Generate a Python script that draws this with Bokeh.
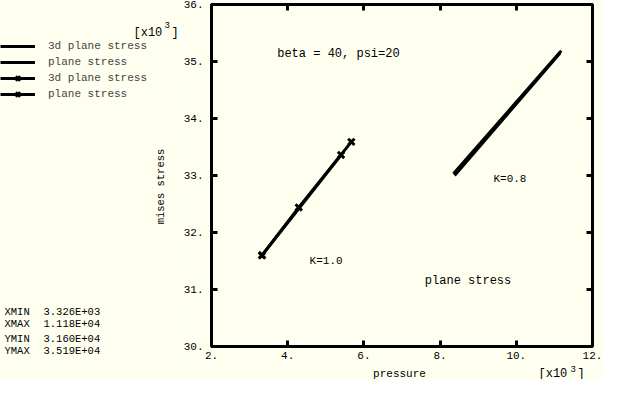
import math
from bokeh.plotting import figure
from bokeh.layouts import row, column
from bokeh.models import (Range1d, LinearAxis, FixedTicker, CustomJSTickFormatter,
                          Label, Legend, LegendItem)
from bokeh.embed import file_html
from bokeh.resources import INLINE

# ---- data ----
p3d_k08 = [8350, 11180]
m3d_k08 = [33030, 35190]
pps_k08 = [8380, 11150]
mps_k08 = [33000, 35150]
p3d_k10 = [3326, 4290, 5670]
m3d_k10 = [31600, 32440, 33590]
pps_k10 = [3326, 5400]
mps_k10 = [31600, 33360]

x_ticks = [2000, 4000, 6000, 8000, 10000, 12000]
y_ticks = [30000, 31000, 32000, 33000, 34000, 35000, 36000]

legend_labels = ["3d plane stress", "plane stress", "3d plane stress", "plane stress"]

BG = "#FFFFF0"
FONT = "Liberation Mono"
LEFT_W = 180


def bare_fig(w, h, xr, yr):
    f = figure(width=w, height=h, x_range=xr, y_range=yr, x_axis_type=None, y_axis_type=None,
               output_backend="svg", toolbar_location=None,
               background_fill_color=BG, border_fill_color=BG,
               min_border=0, min_border_left=0, min_border_right=0,
               min_border_top=0, min_border_bottom=0)
    f.outline_line_color = None
    return f


def add_text(f, x, y, text, size, **kw):
    f.add_layout(Label(x=x, y=y, x_units="screen", y_units="screen", text=text,
                       text_font=FONT, text_font_size=size, text_baseline="middle",
                       text_color="black", **kw))


def add_series(f):
    r1 = f.line(p3d_k08, m3d_k08, line_width=3, color="black")
    r2 = f.line(pps_k08, mps_k08, line_width=3, color="black")
    r3 = f.line(p3d_k10, m3d_k10, line_width=3, color="black")
    r3m = f.scatter(p3d_k10, m3d_k10, marker="x", size=9, line_width=3, color="black")
    r4 = f.line(pps_k10, mps_k10, line_width=3, color="black")
    r4m = f.scatter(pps_k10, mps_k10, marker="x", size=9, line_width=3, color="black")
    return [[r1], [r2], [r3, r3m], [r4, r4m]]


# ---------------- main plot ----------------
p = figure(width=603 - LEFT_W, height=364, x_range=Range1d(2000, 12000),
           y_range=Range1d(30000, 36000),
           x_axis_type=None, y_axis_type=None, output_backend="svg", toolbar_location=None,
           background_fill_color=BG, border_fill_color=BG,
           min_border_left=28, min_border_right=11, min_border_top=4, min_border_bottom=18)
p.outline_line_color = "black"
p.outline_line_width = 3

fmt = CustomJSTickFormatter(code="return (tick/1000).toFixed(0) + '.';")


def make_axis(ticks, show):
    ax = LinearAxis(ticker=FixedTicker(ticks=ticks), formatter=fmt,
                    axis_line_width=3, axis_line_color="black",
                    major_tick_line_width=3, major_tick_in=6, major_tick_out=0,
                    minor_tick_line_color=None,
                    major_label_text_font=FONT, major_label_text_color="black")
    if show:
        ax.major_label_text_font_size = "11px"
    else:
        ax.major_label_text_font_size = "0px"
        ax.major_label_text_color = None
        ax.major_label_standoff = 0
    return ax


ax_b = make_axis(x_ticks, True)
ax_b.major_label_standoff = 5
ax_l = make_axis(y_ticks, True)
ax_l.major_label_standoff = 8
p.add_layout(ax_b, "below")
p.add_layout(ax_l, "left")
p.add_layout(make_axis(x_ticks, False), "above")
p.add_layout(make_axis(y_ticks, False), "right")

add_series(p)


def dlabel(x, y, text, size):
    p.add_layout(Label(x=x, y=y, text=text, text_font=FONT, text_font_size=size,
                       text_baseline="middle", text_color="black"))


dlabel(3725, 35140, "beta = 40, psi=20", "12px")
dlabel(4575, 31500, "K=1.0", "11px")
dlabel(9400, 32930, "K=0.8", "11px")
dlabel(7600, 31155, "plane stress", "12px")

# ---------------- left strip: legend, y title, stats ----------------
left = bare_fig(LEFT_W, 379, Range1d(0, 1), Range1d(0, 1))
groups = add_series(left)   # same series, only used for the legend swatches (off range)
legend = Legend(items=[LegendItem(label=lab, renderers=g) for lab, g in zip(legend_labels, groups)],
                location=(0, 277), background_fill_alpha=0, border_line_color=None,
                padding=0, margin=0, spacing=0, glyph_width=35, glyph_height=16,
                label_height=16, label_standoff=13, label_text_font=FONT,
                label_text_font_size="11px", label_text_baseline="middle")
left.add_layout(legend)

all_x = p3d_k08 + pps_k08 + p3d_k10 + pps_k10
all_y = m3d_k08 + mps_k08 + m3d_k10 + mps_k10
stats = [("XMIN", min(all_x), 68), ("XMAX", max(all_x), 56),
         ("YMIN", min(all_y), 41), ("YMAX", max(all_y), 29)]
for name, v, yy in stats:
    add_text(left, 4, yy, name, "10.5px")
    add_text(left, 43, yy, f"{v:.3E}", "10.5px")

add_text(left, 160, 193, "mises stress", "10.5px", text_align="center", angle=math.pi / 2)
add_text(left, 133, 347, "[x10", "12px")
add_text(left, 164, 355, "3", "9px")
add_text(left, 171, 347, "]", "12px")

# ---------------- bottom strip: x title and multiplier (frame aligned with main) ----------------
bottom = bare_fig(603 - LEFT_W, 15, Range1d(0, 1), Range1d(0, 1))
add_text(bottom, 188, 6, "pressure", "11px", text_align="center")
add_text(bottom, 327, 6, "[x10", "12px")
add_text(bottom, 359, 11, "3", "9px")
add_text(bottom, 366, 6, "]", "12px")

layout = row(left, column(p, bottom, spacing=0), spacing=0)
open("out.html", "w").write(file_html(layout, INLINE))
